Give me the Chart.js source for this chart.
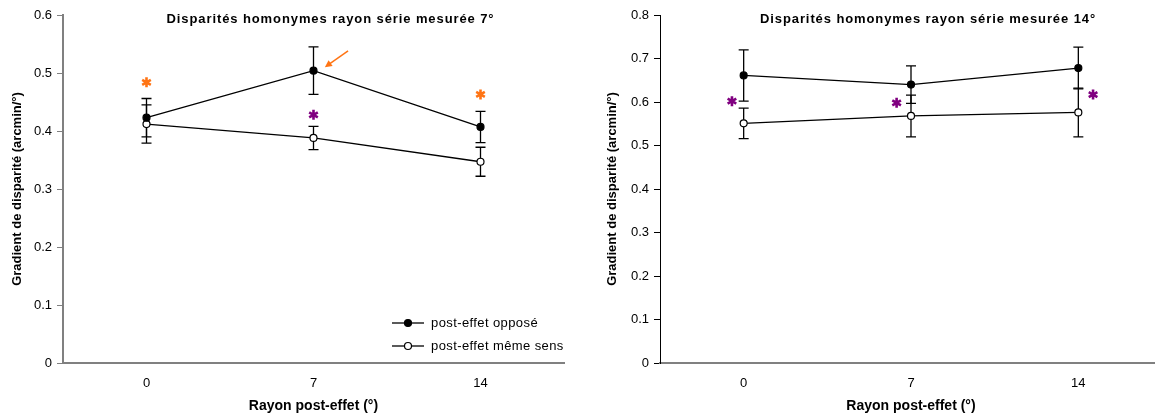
<!DOCTYPE html>
<html>
<head>
<meta charset="utf-8">
<script src="https://cdn.jsdelivr.net/npm/chart.js@4"></script>
<style>
  html, body { margin: 0; padding: 0; background: #fff; overflow: hidden; width: 1155px; height: 416px; }
  #left { position: absolute; left: 0; top: 0; }
  #right { position: absolute; left: 580px; top: 0; }
</style>
</head>
<body>
<canvas id="left" width="580" height="416"></canvas>
<canvas id="right" width="590" height="416"></canvas>
<script>
// données
const categories = ['0', '7', '14'];

const oppose7 = [0.423, 0.504, 0.407];
const oppose7Err = [0.033, 0.041, 0.027];
const memeSens7 = [0.412, 0.388, 0.347];
const memeSens7Err = [0.033, 0.020, 0.025];

const oppose14 = [0.661, 0.640, 0.678];
const oppose14Err = [0.059, 0.043, 0.048];
const memeSens14 = [0.551, 0.568, 0.576];
const memeSens14Err = [0.035, 0.048, 0.056];

// astérisques (position en index de catégorie / valeur)
const stars7X = [0, 1, 2];
const stars7Y = [0.484, 0.428, 0.463];
const stars7Color = ['#ff7414', '#800080', '#ff7414'];
const stars14X = [-0.07, 0.914, 2.088];
const stars14Y = [0.602, 0.598, 0.617];
const stars14Color = ['#800080', '#800080', '#800080'];

// flèche orange (graphique 7°)
const arrow7 = { x0: 1.207, y0: 0.538, x1: 1.068, y1: 0.510 };

const FONT = 'Liberation Sans, Arial, sans-serif';
Chart.defaults.font.family = FONT;
Chart.defaults.color = '#000';

// barres d'erreur dessinées avant les points
const errorBars = {
  id: 'errorBars',
  beforeDatasetsDraw(chart) {
    const { ctx, scales: { x, y } } = chart;
    ctx.save();
    ctx.strokeStyle = '#000';
    ctx.lineWidth = 1.3;
    chart.data.datasets.forEach(ds => {
      ds.data.forEach((v, i) => {
        const px = x.getPixelForValue(i);
        const top = y.getPixelForValue(v + ds.err[i]);
        const bot = y.getPixelForValue(v - ds.err[i]);
        ctx.beginPath();
        ctx.moveTo(px, top); ctx.lineTo(px, bot);
        ctx.moveTo(px - 5, top); ctx.lineTo(px + 5, top);
        ctx.moveTo(px - 5, bot); ctx.lineTo(px + 5, bot);
        ctx.stroke();
      });
    });
    ctx.restore();
  }
};

function drawStar(ctx, cx, cy, color) {
  ctx.save();
  ctx.strokeStyle = color;
  ctx.lineWidth = 2.6;
  ctx.beginPath();
  for (let k = 0; k < 3; k++) {
    const a = Math.PI / 2 + k * Math.PI / 3;
    ctx.moveTo(cx + 5 * Math.cos(a), cy - 5 * Math.sin(a));
    ctx.lineTo(cx - 5 * Math.cos(a), cy + 5 * Math.sin(a));
  }
  ctx.stroke();
  ctx.restore();
}

// titre, astérisques, flèche, légende
const extras = {
  id: 'extras',
  afterDraw(chart, args, opts) {
    const { ctx, chartArea, scales: { x, y } } = chart;
    ctx.save();
    ctx.fillStyle = '#000';
    ctx.font = 'bold 13px ' + FONT;
    ctx.letterSpacing = '0.9px';
    ctx.textAlign = 'center';
    ctx.textBaseline = 'middle';
    ctx.fillText(opts.title, (chartArea.left + chartArea.right) / 2 + opts.titleShift, chartArea.top + 4);

    opts.starX.forEach((sx, i) => {
      drawStar(ctx, x.getPixelForValue(sx), y.getPixelForValue(opts.starY[i]), opts.starColor[i]);
    });

    if (opts.arrow) {
      const a = opts.arrow;
      const x0 = x.getPixelForValue(a.x0), y0 = y.getPixelForValue(a.y0);
      const x1 = x.getPixelForValue(a.x1), y1 = y.getPixelForValue(a.y1);
      const ang = Math.atan2(y1 - y0, x1 - x0);
      ctx.strokeStyle = '#ff7414';
      ctx.fillStyle = '#ff7414';
      ctx.lineWidth = 1.5;
      ctx.beginPath();
      ctx.moveTo(x0, y0);
      ctx.lineTo(x1 - 4 * Math.cos(ang), y1 - 4 * Math.sin(ang));
      ctx.stroke();
      ctx.beginPath();
      ctx.moveTo(x1, y1);
      ctx.lineTo(x1 - 7 * Math.cos(ang) + 3.5 * Math.sin(ang), y1 - 7 * Math.sin(ang) - 3.5 * Math.cos(ang));
      ctx.lineTo(x1 - 7 * Math.cos(ang) - 3.5 * Math.sin(ang), y1 - 7 * Math.sin(ang) + 3.5 * Math.cos(ang));
      ctx.closePath();
      ctx.fill();
    }

    if (opts.legend) {
      const lx = chartArea.right - 172;
      ctx.font = '13px ' + FONT;
      ctx.letterSpacing = '0.4px';
      ctx.textAlign = 'left';
      chart.data.datasets.forEach((ds, i) => {
        const ly = chartArea.bottom - 40 + i * 23;
        ctx.strokeStyle = '#000';
        ctx.lineWidth = 1.3;
        ctx.beginPath();
        ctx.moveTo(lx, ly); ctx.lineTo(lx + 32, ly);
        ctx.stroke();
        ctx.beginPath();
        ctx.arc(lx + 16, ly, 3.5, 0, Math.PI * 2);
        ctx.fillStyle = ds.pointBackgroundColor;
        ctx.fill();
        ctx.lineWidth = 1.2;
        ctx.stroke();
        ctx.fillStyle = '#000';
        ctx.fillText(ds.label, lx + 39, ly);
      });
    }
    ctx.restore();
  }
};

function makeChart(id, opp, oppErr, meme, memeErr, yMax, yWidth, yColor, yBorderW, titlePadTop, padRight, extra) {
  return new Chart(document.getElementById(id), {
    type: 'line',
    data: {
      labels: categories,
      datasets: [
        {
          label: 'post-effet opposé',
          data: opp, err: oppErr,
          borderColor: '#000', borderWidth: 1.3,
          pointRadius: 3.5, pointBackgroundColor: '#000', pointBorderColor: '#000', pointBorderWidth: 1.2
        },
        {
          label: 'post-effet même sens',
          data: meme, err: memeErr,
          borderColor: '#000', borderWidth: 1.3,
          pointRadius: 3.5, pointBackgroundColor: '#fff', pointBorderColor: '#000', pointBorderWidth: 1.2
        }
      ]
    },
    options: {
      responsive: false,
      animation: false,
      devicePixelRatio: 1,
      layout: { padding: { top: 15, right: padRight, left: 0, bottom: 0 } },
      plugins: {
        legend: { display: false },
        tooltip: { enabled: false },
        extras: extra
      },
      scales: {
        x: {
          offset: true,
          grid: { display: false },
          border: { display: true, color: '#808080', width: 2 },
          ticks: { padding: 5, font: { size: 13 }, color: '#000' },
          title: { display: true, text: 'Rayon post-effet (°)', font: { size: 14, weight: 'bold' }, padding: { top: 0, bottom: 1 } },
          afterFit(scale) { scale.height = 53; }
        },
        y: {
          min: 0, max: yMax,
          ticks: { stepSize: 0.1, padding: 5, font: { size: 13 }, color: '#000' },
          grid: { drawOnChartArea: false, tickLength: 6, color: yColor },
          border: { display: true, color: yColor, width: yBorderW },
          title: { display: true, text: 'Gradient de disparité (arcmin/°)', font: { size: 13, weight: 'bold' }, padding: { top: titlePadTop, bottom: 0 } },
          afterFit(scale) { scale.width = yWidth; }
        }
      }
    },
    plugins: [errorBars, extras]
  });
}

makeChart('left', oppose7, oppose7Err, memeSens7, memeSens7Err, 0.6, 63, '#808080', 2, 10, 16, {
  title: 'Disparités homonymes rayon série mesurée 7°', titleShift: 17,
  starX: stars7X, starY: stars7Y, starColor: stars7Color, arrow: arrow7, legend: true
});

makeChart('right', oppose14, oppose14Err, memeSens14, memeSens14Err, 0.8, 80, '#000', 1, 25, 8, {
  title: 'Disparités homonymes rayon série mesurée 14°', titleShift: 17,
  starX: stars14X, starY: stars14Y, starColor: stars14Color, arrow: null, legend: false
});
</script>
</body>
</html>
